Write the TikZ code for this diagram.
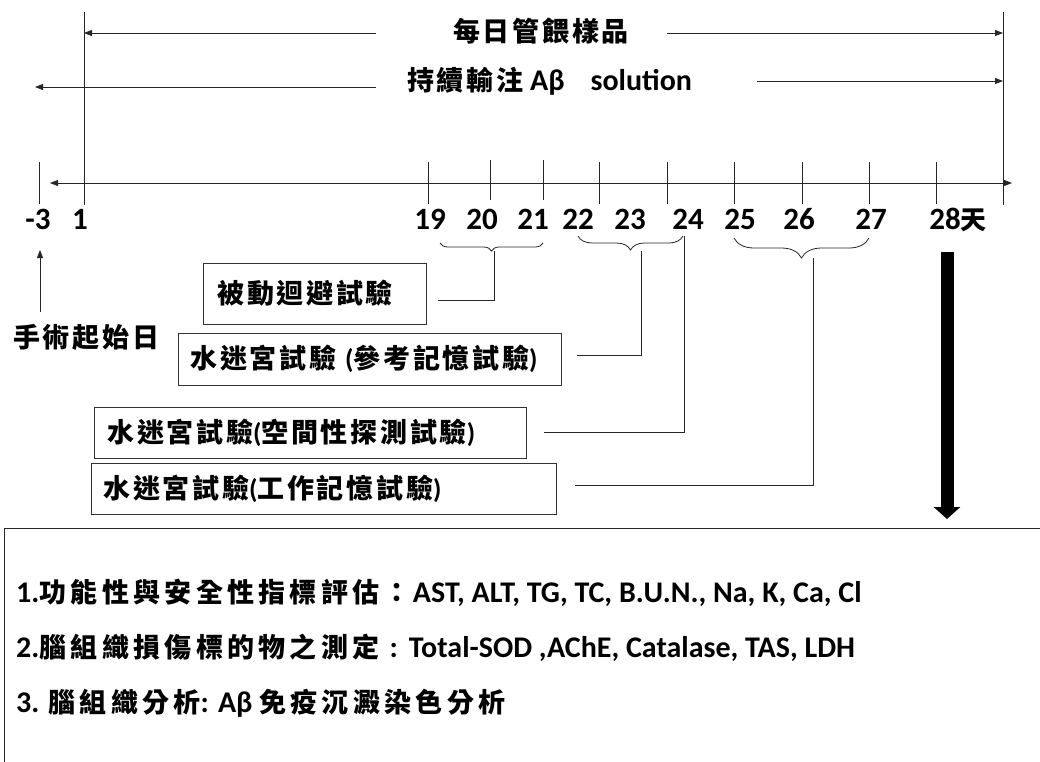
\documentclass[tikz,border=0pt]{standalone}
\usepackage{fontspec}
\setmainfont{Carlito}
\newfontfamily\cjk[LetterSpace=10]{Noto Sans CJK TC}
\newfontfamily\cjkwide[LetterSpace=16]{Noto Sans CJK TC}
\newcommand{\cj}[1]{{\fontsize{27}{30}\selectfont\cjk #1}}
\newcommand{\cjb}[1]{{\fontsize{27}{30}\selectfont\cjkwide #1}}
\usetikzlibrary{arrows.meta,decorations.pathreplacing}
\begin{document}
\begin{tikzpicture}[x=1pt,y=-1pt,
  thin/.style={line width=0.8pt, draw=black!85},
  arr/.style={thin, -{Triangle[length=8pt,width=6pt]}},
  tickl/.style={font=\fontsize{31}{34}\selectfont\bfseries, inner sep=0pt, anchor=base},
  lbl/.style={font=\fontsize{30}{34}\selectfont\bfseries, inner sep=0pt},
  box/.style={draw=black!80, line width=0.8pt, anchor=west, inner ysep=0pt, align=left,
    font=\fontsize{27}{30}\selectfont\bfseries},
  brc/.style={thin, decorate, decoration={brace, mirror, amplitude=#1}},
  res/.style={font=\fontsize{30}{32}\selectfont\bfseries, inner sep=0pt, anchor=west}
]
\useasboundingbox (0,0) rectangle (1040,761);

% day-1 and day-28 vertical lines
\coordinate (L1) at (84,12);
\coordinate (L1b) at (84,205);
\coordinate (R1) at (1003,12);
\coordinate (R1b) at (1003,205);
\draw[thin] (L1) -- (L1b);
\draw[thin] (R1) -- (R1b);

% top labels and arrows
\node[lbl, anchor=west] (t1) at (453,31) {\cj{每日管餵樣品}};
\coordinate (a1s) at (376,33);
\coordinate (a1e) at (667,33);
\draw[arr] (a1s) -- (a1s -| L1);
\draw[arr] (a1e) -- (a1e -| R1);

\node[lbl, anchor=west] (t2) at (407,81) {\cj{持續輸注} Aβ\hspace{26pt}solution};
\coordinate (a2s) at (376,87);
\coordinate (a2t) at (35,87);
\coordinate (a2e) at (757,81);
\draw[arr] (a2s) -- (a2t);
\draw[arr] (a2e) -- (a2e -| R1);

% time axis
\coordinate (ax1) at (50,183);
\coordinate (ax2) at (1012,183);
\draw[thin, {Triangle[length=8pt,width=6pt]}-{Triangle[length=8pt,width=6pt]}] (ax1) -- (ax2);

% ticks
\draw[thin] (39,162) -- (39,204);
\foreach \x/\a/\b in {428/162/204, 490/160/200, 543/160/200, 599/162/204, 667/162/204,
                     734/162/204, 802/162/204, 869/162/204, 936/162/204}
  \draw[thin] (\x,\a) -- (\x,\b);

% tick labels
\node[tickl] (dm3) at (38,229) {-3};
\node[tickl] (d1) at (80,229) {1};
\node[tickl] (d19) at (430,229) {19};
\node[tickl] (d20) at (482,229) {20};
\node[tickl] (d21) at (533,229) {21};
\node[tickl] (d22) at (578,229) {22};
\node[tickl] (d23) at (630,229) {23};
\node[tickl] (d24) at (688,229) {24};
\node[tickl] (d25) at (740,229) {25};
\node[tickl] (d26) at (799,229) {26};
\node[tickl] (d27) at (871,229) {27};
\node[tickl] (d28) at (958,229) {28{\fontsize{26}{28}\selectfont\cjk 天}};

% surgery start
\node[lbl, anchor=west] (op) at (13,337) {\cj{手術起始日}};
\coordinate (opS) at (40,312);
\coordinate (opT) at (40,250);
\draw[arr] (opS) -- (opT);

% braces
\draw[brc=8pt] (440,243) -- (543,243);
\draw[brc=14pt] (578,236) -- (683,236);
\draw[brc=20pt] (734,238) -- (869,238);
\coordinate (bt1) at (494,251);
\coordinate (bt2) at (641,251);
\coordinate (be2) at (684,236);
\coordinate (bt3) at (813,258);

% boxes
\node[box, inner xsep=14pt, text width=195pt, minimum height=61pt] (b1) at (203,293.5)
  {\cj{被動迴避試驗}};
\node[box, inner xsep=12pt, text width=359pt, minimum height=52pt] (b2) at (178,359)
  {\cj{水迷宮試驗} (\cj{參考記憶試驗})};
\node[box, inner xsep=13pt, text width=406pt, minimum height=51pt] (b3) at (94,432.5)
  {\cj{水迷宮試驗}(\cj{空間性探測試驗})};
\node[box, inner xsep=12pt, text width=441pt, minimum height=51pt] (b4) at (91,488.5)
  {\cj{水迷宮試驗}(\cj{工作記憶試驗})};

% connectors
\draw[thin] ([xshift=11pt,yshift=-6.5pt]b1.east) -| (bt1);
\draw[thin] ([xshift=15pt,yshift=4pt]b2.east) -| (bt2);
\draw[thin] ([xshift=17pt]b3.east) -| (be2);
\draw[thin] ([xshift=18pt,yshift=3pt]b4.east) -| (bt3);

% thick arrow
\coordinate (ta1) at (947,252);
\coordinate (ta2) at (947,519);
\draw[line width=13pt, -{Triangle[length=12pt,width=26pt]}] (ta1) -- (ta2);

% results box
\node[draw=black!85, line width=1pt, anchor=north west, minimum width=1100pt,
      minimum height=300pt, inner sep=0pt] (rb) at (4,528) {};
\node[res] (r1) at (16,593) {1.\cjb{功能性與安全性指標評估：}\hspace{2pt}AST, ALT, TG, TC, B.U.N., Na, K, Ca, Cl};
\node[res] (r2) at (16,648) {2.\cjb{腦組織損傷標的物之測定}\hspace{10pt}:\hspace{11pt}Total-SOD ,AChE, Catalase, TAS, LDH};
\node[res] (r3) at (16,703) {3. \cjb{腦組織分析}: Aβ \cjb{免疫沉澱染色分析}};
\end{tikzpicture}
\end{document}
